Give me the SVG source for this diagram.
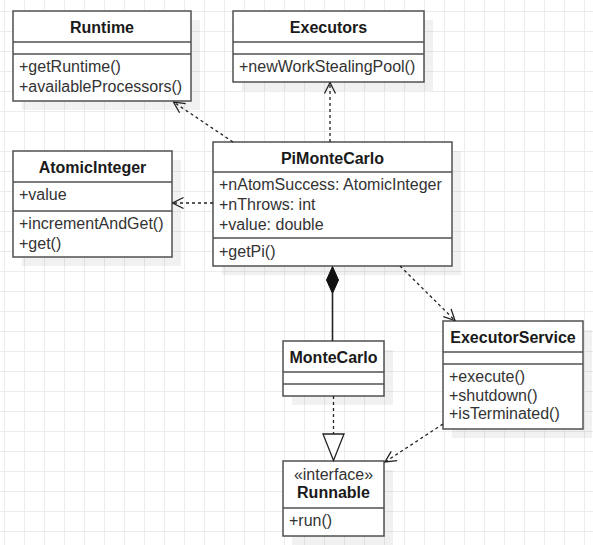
<svg xmlns="http://www.w3.org/2000/svg" width="593" height="545" viewBox="0 0 593 545">
<defs>
<pattern id="grid" x="4" y="11" width="20" height="20" patternUnits="userSpaceOnUse">
<rect x="0" y="0" width="1" height="20" fill="#ececec"/>
<rect x="0" y="0" width="20" height="1" fill="#ececec"/>
</pattern>
<marker id="open" markerUnits="userSpaceOnUse" markerWidth="14" markerHeight="14" viewBox="0 0 14 14" refX="13" refY="7" orient="auto">
<path d="M2,1.5 L13,7 L2,12.5" fill="none" stroke="#222" stroke-width="1.3" stroke-dasharray="none"/>
</marker>
</defs>
<style>
.box{fill:#fff;stroke:#505050;stroke-width:1.5}
.sh{fill:#000;fill-opacity:0.055}
.div{stroke:#505050;stroke-width:1.5}
.t{font-family:"Liberation Sans",Arial,sans-serif;font-size:16px;fill:#333}
.b{font-family:"Liberation Sans",Arial,sans-serif;font-size:16px;font-weight:bold;fill:#1a1a1a;text-anchor:middle}
.dash{fill:none;stroke:#222;stroke-width:1.3;stroke-dasharray:3 3}
</style>
<rect x="0" y="0" width="593" height="545" fill="#fff"/>
<rect x="0" y="0" width="593" height="545" fill="url(#grid)"/>

<g id="Runtime">
<rect class="sh" x="22" y="20" width="178" height="90"/>
<rect class="box" x="13" y="11" width="178" height="90"/>
<line class="div" x1="13" y1="42" x2="191" y2="42"/>
<line class="div" x1="13" y1="54" x2="191" y2="54"/>
<text class="b" x="102" y="32.5">Runtime</text>
<text class="t" x="19" y="72">+getRuntime()</text>
<text class="t" x="19" y="92">+availableProcessors()</text>
</g>

<g id="Executors">
<rect class="sh" x="242" y="20" width="191" height="71"/>
<rect class="box" x="233" y="11" width="191" height="71"/>
<line class="div" x1="233" y1="42" x2="424" y2="42"/>
<line class="div" x1="233" y1="54" x2="424" y2="54"/>
<text class="b" x="328.5" y="32.5">Executors</text>
<text class="t" x="239" y="72">+newWorkStealingPool()</text>
</g>

<g id="AtomicInteger">
<rect class="sh" x="22" y="160" width="159" height="106"/>
<rect class="box" x="13" y="151" width="159" height="106"/>
<line class="div" x1="13" y1="182" x2="172" y2="182"/>
<line class="div" x1="13" y1="211" x2="172" y2="211"/>
<text class="b" x="92.5" y="172.5">AtomicInteger</text>
<text class="t" x="19" y="200">+value</text>
<text class="t" x="19" y="229">+incrementAndGet()</text>
<text class="t" x="19" y="249">+get()</text>
</g>

<g id="PiMonteCarlo">
<rect class="sh" x="222" y="151" width="239" height="124"/>
<rect class="box" x="213" y="142" width="239" height="124"/>
<line class="div" x1="213" y1="172" x2="452" y2="172"/>
<line class="div" x1="213" y1="238" x2="452" y2="238"/>
<text class="b" x="332.5" y="163.5">PiMonteCarlo</text>
<text class="t" x="219" y="190">+nAtomSuccess: AtomicInteger</text>
<text class="t" x="219" y="210">+nThrows: int</text>
<text class="t" x="219" y="230">+value: double</text>
<text class="t" x="219" y="257">+getPi()</text>
</g>

<g id="MonteCarlo">
<rect class="sh" x="292" y="350" width="101" height="55"/>
<rect class="box" x="283" y="341" width="101" height="55"/>
<line class="div" x1="283" y1="372" x2="384" y2="372"/>
<line class="div" x1="283" y1="384" x2="384" y2="384"/>
<text class="b" x="333.5" y="362.5">MonteCarlo</text>
</g>

<g id="ExecutorService">
<rect class="sh" x="452" y="330" width="140" height="108"/>
<rect class="box" x="443" y="321" width="140" height="108"/>
<line class="div" x1="443" y1="352" x2="583" y2="352"/>
<line class="div" x1="443" y1="364" x2="583" y2="364"/>
<text class="b" x="513" y="342.5">ExecutorService</text>
<text class="t" x="449" y="382">+execute()</text>
<text class="t" x="449" y="400.5">+shutdown()</text>
<text class="t" x="449" y="419">+isTerminated()</text>
</g>

<g id="Runnable">
<rect class="sh" x="292" y="470" width="101" height="75"/>
<rect class="box" x="283" y="461" width="101" height="75"/>
<line class="div" x1="283" y1="508" x2="384" y2="508"/>
<text class="t" x="333.5" y="479.5" text-anchor="middle">«interface»</text>
<text class="b" x="333.5" y="497.5">Runnable</text>
<text class="t" x="289" y="526">+run()</text>
</g>

<g id="connectors">
<line class="dash" x1="233" y1="142" x2="173.5" y2="102" marker-end="url(#open)"/>
<line class="dash" x1="330" y1="142" x2="330" y2="82.5" marker-end="url(#open)"/>
<line class="dash" x1="213" y1="203" x2="172.5" y2="203" marker-end="url(#open)"/>
<line class="dash" x1="400" y1="266" x2="455" y2="320.5" marker-end="url(#open)"/>
<line class="dash" x1="443" y1="424" x2="385" y2="462" marker-end="url(#open)"/>
<line x1="332.5" y1="293" x2="332.5" y2="341" stroke="#222" stroke-width="1.6"/>
<polygon points="332.5,266.5 338.5,280 332.5,293.5 326.5,280" fill="#111" stroke="#111" stroke-width="1"/>
<line class="dash" x1="333.5" y1="396" x2="333.5" y2="434"/>
<polygon points="323,434 344,434 333.5,460.5" fill="#fff" stroke="#222" stroke-width="1.3"/>
</g>
</svg>
